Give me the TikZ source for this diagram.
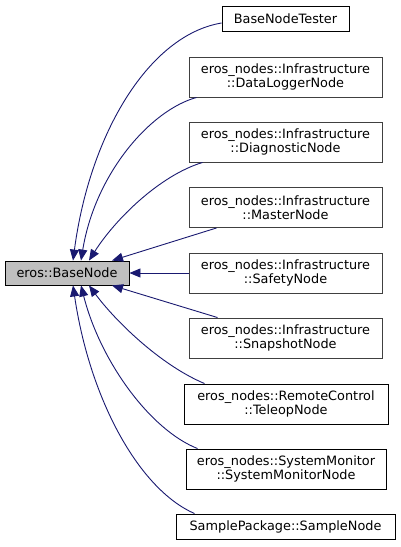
\documentclass[tikz,border=0pt]{standalone}
\usepackage{fontspec}
\setmainfont{DejaVu Sans}
\usetikzlibrary{arrows.meta}
\definecolor{edgeblue}{HTML}{191970}
\definecolor{rootfill}{HTML}{BFBFBF}
\definecolor{greyline}{HTML}{404040}
\tikzset{
  cls/.style={draw=black, line width=0.9pt, fill=white, inner sep=0pt, align=center,
    font=\fontsize{12.85}{14}\selectfont},
  clsgrey/.style={cls, draw=greyline},
  edge/.style={draw=edgeblue, line width=0.9pt, -{Triangle[length=11pt,width=9pt]}},
}
\begin{document}
\begin{tikzpicture}[x=1pt, y=-1pt]
\useasboundingbox (0,0) rectangle (400,547);
\node[cls, fill=rootfill, minimum width=124pt, minimum height=24pt] (base) at (67,273) {eros::BaseNode};
\node[cls, minimum width=127pt, minimum height=25pt] (tester) at (285.5,18.5) {BaseNodeTester};
\node[clsgrey, minimum width=193pt, minimum height=40pt] (logger) at (285.5,77) {eros\_nodes::Infrastructure\\::DataLoggerNode};
\node[clsgrey, minimum width=193pt, minimum height=40pt] (diag) at (285.5,142) {eros\_nodes::Infrastructure\\::DiagnosticNode};
\node[clsgrey, minimum width=193pt, minimum height=40pt] (master) at (285.5,207.5) {eros\_nodes::Infrastructure\\::MasterNode};
\node[clsgrey, minimum width=193pt, minimum height=40pt] (safety) at (285.5,273) {eros\_nodes::Infrastructure\\::SafetyNode};
\node[clsgrey, minimum width=193pt, minimum height=40pt] (snap) at (285.5,338) {eros\_nodes::Infrastructure\\::SnapshotNode};
\node[cls, minimum width=204pt, minimum height=40pt] (teleop) at (286,404) {eros\_nodes::RemoteControl\\::TeleopNode};
\node[cls, minimum width=200pt, minimum height=40pt] (sysmon) at (286,469) {eros\_nodes::SystemMonitor\\::SystemMonitorNode};
\node[cls, minimum width=219pt, minimum height=25pt] (sample) at (285.5,526.5) {SamplePackage::SampleNode};

\draw[edge] ([yshift=-4.5pt]tester.west) .. controls +(-72,12) and +(17,-128) .. ([xshift=6pt]base.north);
\draw[edge] ([xshift=8pt]logger.south west) .. controls +(-47,13) and +(14,-86) .. ([xshift=14pt]base.north);
\draw[edge] ([xshift=14pt]diag.south west) .. controls +(-43,13) and +(26,-41) .. ([xshift=22pt]base.north);
\draw[edge] ([xshift=28pt]master.south west) -- ([xshift=45pt]base.north);
\draw[edge] (safety.west) -- (base.east);
\draw[edge] ([xshift=29pt]snap.north west) -- ([xshift=45pt]base.south);
\draw[edge] ([xshift=21pt]teleop.north west) .. controls +(-45,-19) and +(26,35) .. ([xshift=22pt]base.south);
\draw[edge] ([xshift=12pt]sysmon.north west) .. controls +(-48,-19) and +(19,75) .. ([xshift=14pt]base.south);
\draw[edge] ([xshift=19pt]sample.north west) .. controls +(-55,-24) and +(17,115) .. ([xshift=6pt]base.south);
\end{tikzpicture}
\end{document}
